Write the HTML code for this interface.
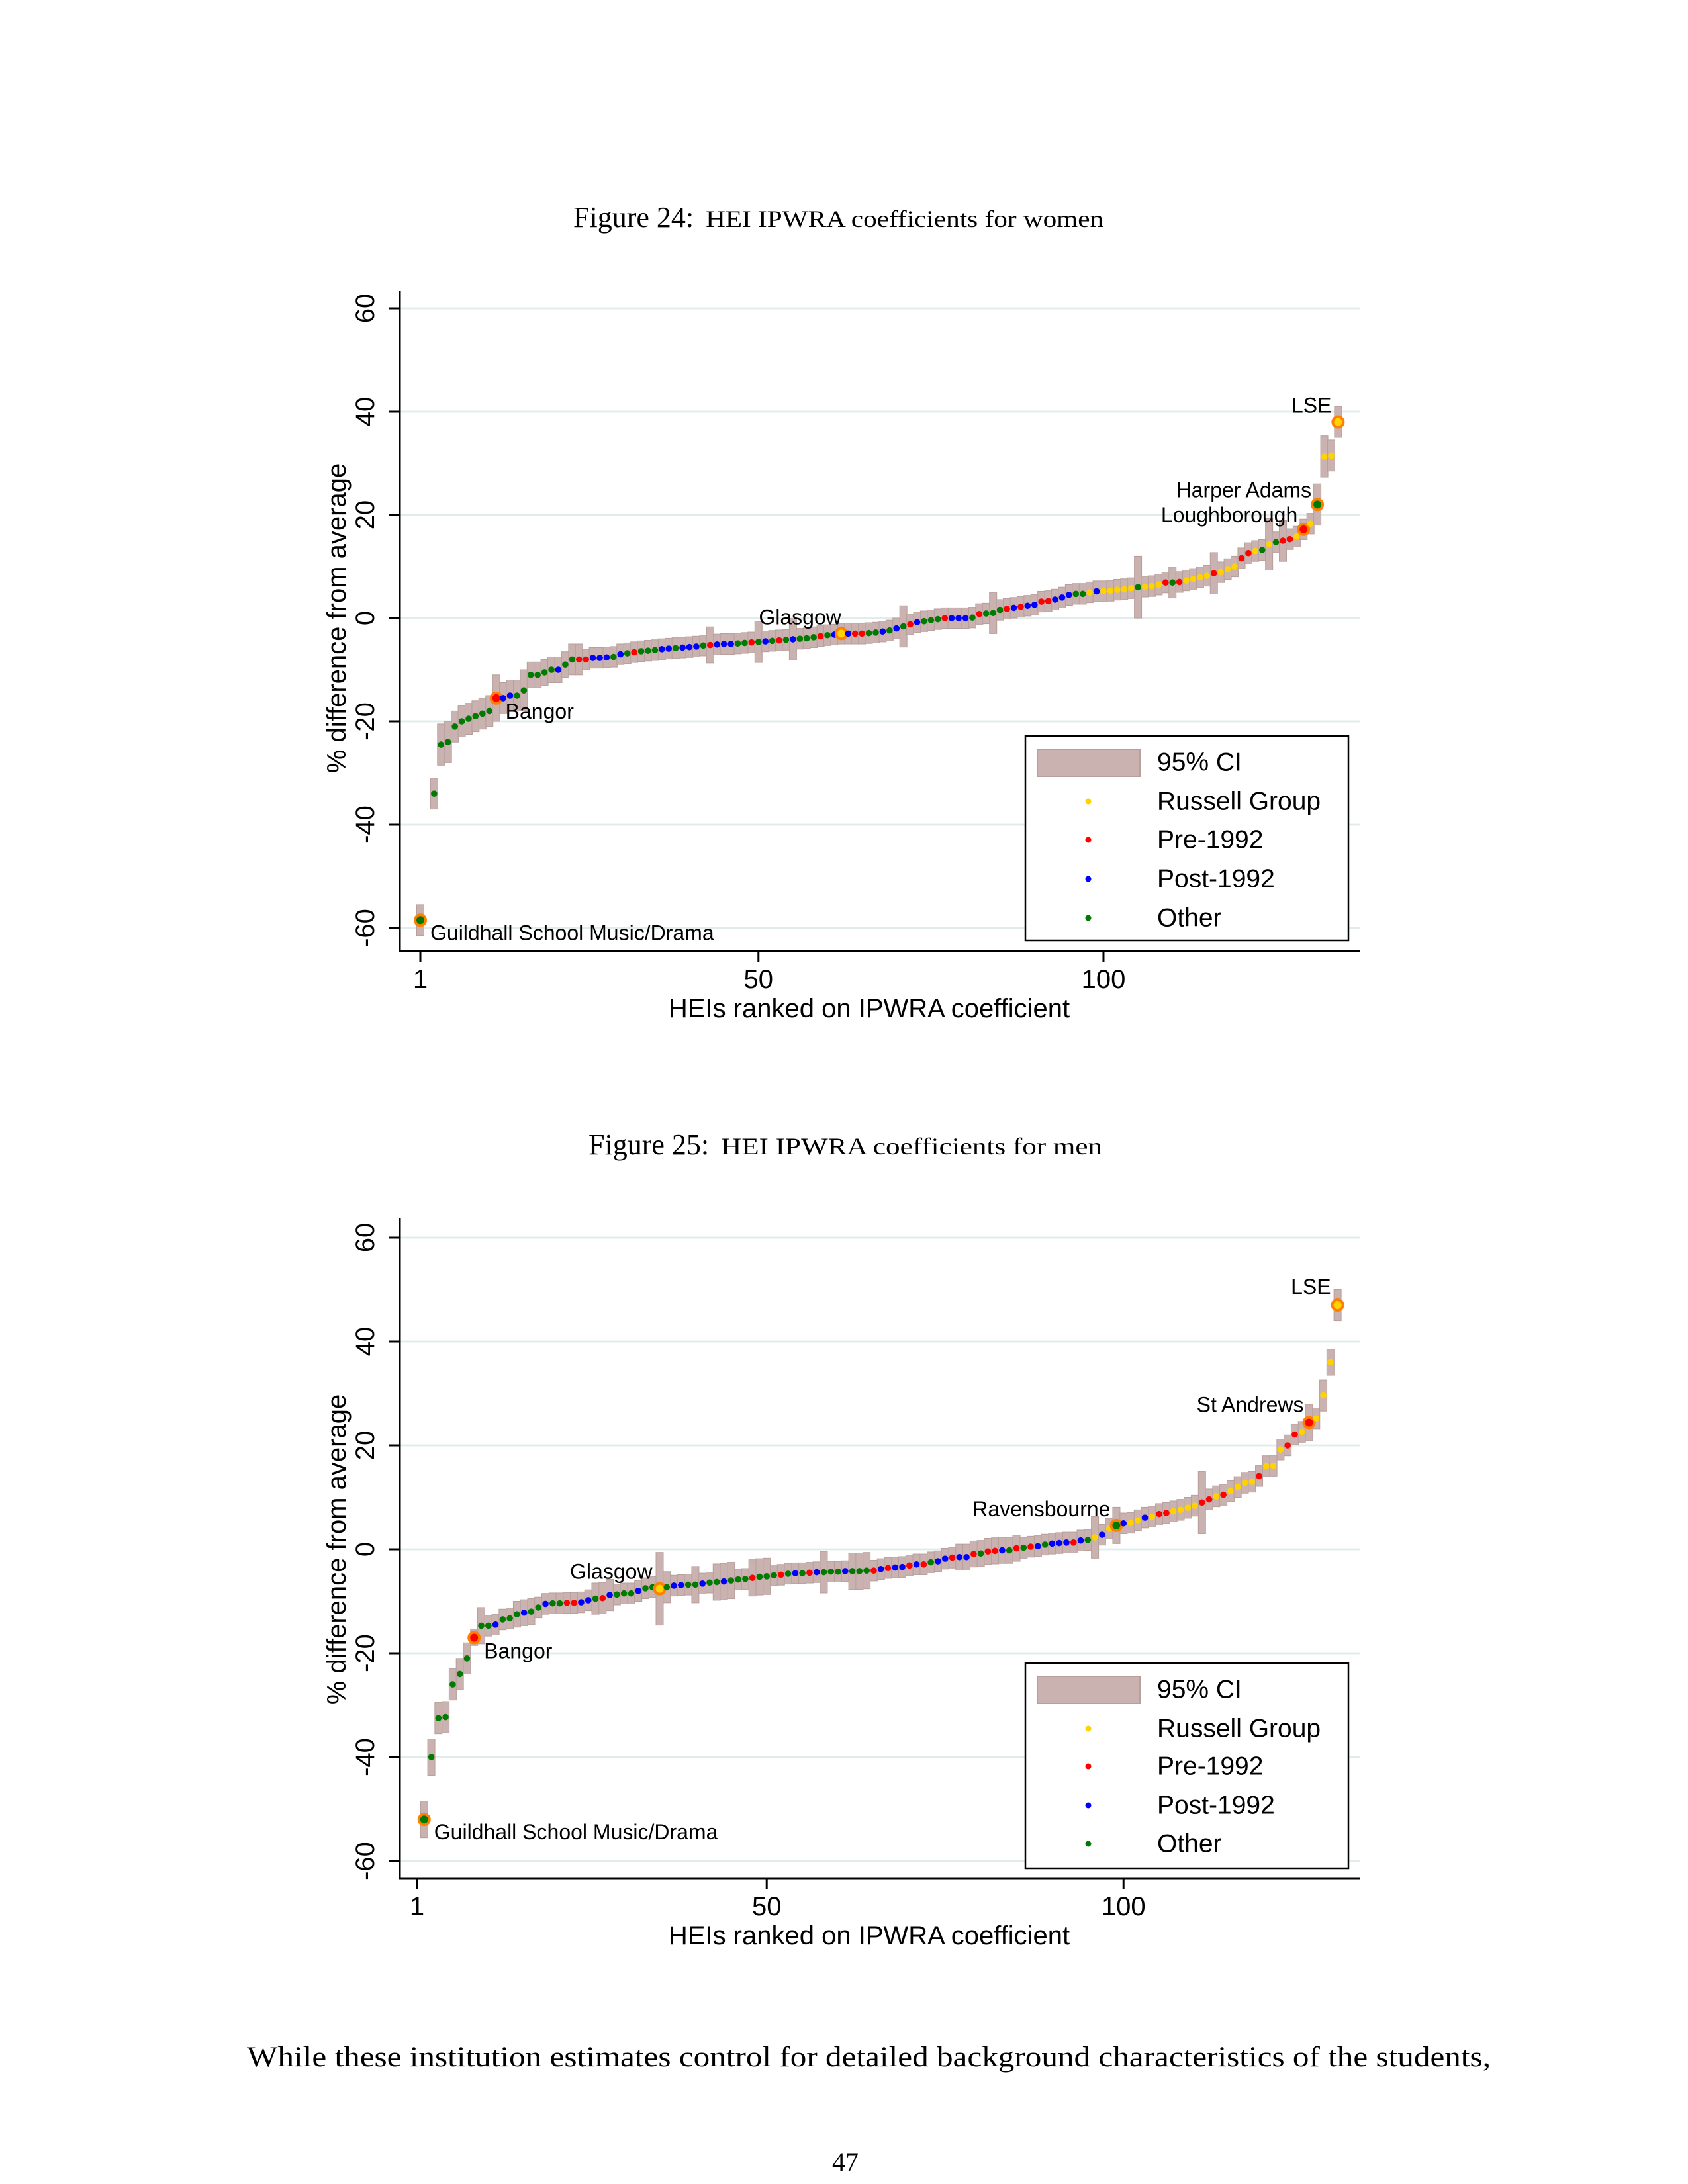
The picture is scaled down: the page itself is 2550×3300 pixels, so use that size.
<!DOCTYPE html>
<html><head><meta charset="utf-8"><style>
html,body{margin:0;padding:0;background:#fff;}
svg{display:block;}
text{font-family:"Liberation Sans",sans-serif;}
.serif{font-family:"Liberation Serif",serif;}
</style></head><body>
<svg id="page" xmlns="http://www.w3.org/2000/svg" width="2550" height="3300" viewBox="0 0 2550 3300">
<rect x="0" y="0" width="2550" height="3300" fill="#fff"/>
<text class="serif" x="866" y="343" font-size="44" fill="#000">Figure 24:<tspan font-size="36" dx="18" textLength="601" lengthAdjust="spacingAndGlyphs">HEI IPWRA coefficients for women</tspan></text>
<text class="serif" x="889" y="1744" font-size="44" fill="#000">Figure 25:<tspan font-size="36" dx="18" textLength="576" lengthAdjust="spacingAndGlyphs">HEI IPWRA coefficients for men</tspan></text>
<g id="chart1"></g>
<g id="chart2"></g>
<text class="serif" x="373" y="3122" font-size="43" fill="#000" textLength="1879" lengthAdjust="spacingAndGlyphs">While these institution estimates control for detailed background characteristics of the students,</text>
<text class="serif" x="1277" y="3280" font-size="40" text-anchor="middle" fill="#000">47</text>
</svg>
<script>
const W_vals=[-58.5,null,-34,-24.5,-24,-21,-20,-19.5,-19,-18.5,
-18,-15.5,-15.5,-15,-15,-14,-11,-11,-10.5,-10,
-10,-9,-8,-8,-8,-7.7,-7.7,-7.6,-7.5,-7,
-6.8,-6.6,-6.4,-6.3,-6.2,-6,-5.9,-5.8,-5.7,-5.6,
-5.5,-5.3,-5.2,-5.1,-5,-5,-4.9,-4.8,-4.7,-4.6,
-4.5,-4.4,-4.3,-4.2,-4.1,-4,-3.9,-3.7,-3.5,-3.3,
-3.2,-3,-3,-3,-3,-2.9,-2.8,-2.6,-2.4,-2,
-1.6,-1.2,-0.8,-0.6,-0.4,-0.2,0,0,0,0,
0.1,0.8,0.9,1,1.6,1.8,2,2.2,2.4,2.6,
3.2,3.3,3.6,4,4.5,4.7,4.7,5,5.2,5.2,
5.3,5.5,5.6,5.8,6,6.1,6.2,6.5,6.9,6.9,
7,7.3,7.6,7.9,8.2,8.7,8.9,9.5,10,11.6,
12.6,13,13.2,14.3,14.7,15,15.3,15.8,17.2,18.3,
22,31.3,31.5,38];
const W_ci=[3,0,3,4,4,3,3,3,3,3,
3,4.5,3,3,3,4,2.5,2.5,2.5,2.5,
2.5,2.5,3,3,2,2,2,2,2,2,
2,2,2,2,2,2,2,2,2,2,
2,2,3.5,2,2,2,2,2,2,4,
2,2,2,2,4,2,2,2,2,2,
2,2,2,2,2,2,2,2,2,2,
4,2,2,2,2,2,2,2,2,2,
2,2,2,4,2,2,2,2,2,2,
2,2,2,2,2,2,2,2,2,2,
2,2,2,2,6,2,2,2,2,3,
2,2,2,2,2,4,2,2,2,2,
2,2,2,5,2,4,2,2,2,2,
4,4,3,3];
const W_grp=("GGGGGGGGGG"+"GRBBGGGGGG"+"BGGRRBBBGB"+"GRGGGBBGBB"+"BGRBBBGGRG"+"BGRGBGGGRG"+"BYBRRGGBGB"+"GRBGGGRBBB"+"GRGGGRBRBB"+"RRBBBGGYBY"+"YYYYGYYYRG"+"RYYYYRYYYR"+"RYGYGRRYRY"+"GYYY").split("");
const W_labelIdx=[1,12,62,129,131,134];
const W_labelText=["Guildhall School Music/Drama","Bangor","Glasgow","Loughborough","Harper Adams","LSE"];

const M_vals=[null,-52,-40,-32.5,-32.3,-26,-24,-21,-17,-14.7,
-14.7,-14.5,-13.5,-13.3,-12.5,-12.2,-12,-11.2,-10.5,-10.4,
-10.4,-10.3,-10.3,-10.2,-9.8,-9.5,-9.4,-8.8,-8.7,-8.5,
-8.5,-8,-7.5,-7.3,-7.6,-7.3,-7,-6.9,-6.8,-6.8,
-6.6,-6.4,-6.3,-6.2,-6,-5.8,-5.7,-5.5,-5.3,-5.2,
-5,-4.9,-4.7,-4.6,-4.6,-4.5,-4.4,-4.4,-4.3,-4.3,
-4.2,-4.2,-4.2,-4.1,-4.1,-3.8,-3.6,-3.5,-3.4,-3.1,
-2.9,-2.9,-2.5,-2.3,-1.8,-1.6,-1.5,-1.5,-0.9,-0.8,
-0.4,-0.3,-0.2,-0.2,0.2,0.3,0.5,0.6,0.9,1.1,
1.2,1.3,1.3,1.7,1.8,2.3,2.8,4,4.6,5,
5.1,5.6,6.1,6.3,6.8,7,7.3,7.6,8,8.4,
9,9.6,10.2,10.5,11.2,12,12.8,13,14.1,16,
16.1,19.2,20,22.1,22.6,24.4,25.2,29.6,36,47];
const M_ci=[0,3.5,3.5,3,3,3,3,3,1.5,3.5,
2,2,2,2,2.5,2.5,2.5,2,2,2,
2,2,2,2,2,3,3,3,2,2,
2,2,2,2,7,3,2,2,2,3.5,
2,2,3.5,3.5,3.5,2,2,3.5,3.5,3.5,
2,2,2,2,2,2,2,4,2,2,
2,3.5,3.5,3.5,2,2,2,2,2,2,
2,2,2,2,2,2,2.5,2.5,2.5,2.5,
2.5,2.5,2.5,2.5,2.5,2,2,2,2,2,
2,2,2,2,2,4,2,2,3.5,2,
2,2,2,2,2,2,2,2,2,2,
6,2,2,2,2,2,2,2,2,2,
2,2,2,2,2,3.5,2,3,2.5,3];
const M_grp=("GGGGGGGGRG"+"GBGGGBGGBG"+"GRRBBGRBGG"+"GBGGYGBBGG"+"BGGBGGGRGG"+"GRGBGRBGGG"+"BGGGRBRBBR"+"BRGBBRBBRG"+"RRBGRGRBGB"+"BBRBGYBYGB"+"YYBYRRYYYY"+"RRYRYYYYRY"+"YYRRYRYYYY").split("");
const M_labelIdx=[2,9,35,99,126,130];
const M_labelText=["Guildhall School Music/Drama","Bangor","Glasgow","Ravensbourne","St Andrews","LSE"];

const yTicks=[-60,-40,-20,0,20,40,60];
const xTicks=[1,50,100];
const legendItems=["Russell Group","Pre-1992","Post-1992","Other"];
const legendGroups=["Y","R","B","G"];

const COLORS={Y:"#ffd200",R:"#ff0000",B:"#0000ff",G:"#007a00"};
const NS="http://www.w3.org/2000/svg";
function mk(tag,attrs,parent,txt){const e=document.createElementNS(NS,tag);for(const k in attrs)e.setAttribute(k,attrs[k]);if(txt!==undefined)e.textContent=txt;parent.appendChild(e);return e;}

function draw(gid,vals,ci,grp,labIdx,labText,labOff,cfg){
  const g=document.getElementById(gid);
  const xs=r=>cfg.x1+(r-1)*cfg.dx;
  const ys=v=>cfg.y0-v*cfg.k;
  yTicks.forEach(t=>{
    const l=mk("line",{x1:cfg.left,x2:cfg.right,y1:ys(t),y2:ys(t),stroke:"#e3ecec","stroke-width":3},g);
    
    
    const tk=mk("line",{x1:cfg.left-16,x2:cfg.left,y1:ys(t),y2:ys(t),stroke:"#000","stroke-width":3},g);
    
    
    const tx=mk("text",{x:552,y:ys(t),"font-size":40,"text-anchor":"middle","dominant-baseline":"central",transform:"rotate(-90 552 "+ys(t)+")"},g,String(t));
    
    
  });
  xTicks.forEach(t=>{
    const tk=mk("line",{x1:xs(t),x2:xs(t),y1:cfg.bottom,y2:cfg.bottom+16,stroke:"#000","stroke-width":3},g);
    
    
    const tx=mk("text",{x:xs(t),y:cfg.bottom+56,"font-size":40,"text-anchor":"middle"},g,String(t));
    
    
  });
  const ax=mk("path",{d:`M${cfg.left} ${cfg.top} V${cfg.bottom} H${cfg.right}`,fill:"none",stroke:"#000","stroke-width":3},g);
  
  
  const xt=mk("text",{x:1313,y:cfg.bottom+100,"font-size":40,"text-anchor":"middle"},g,"HEIs ranked on IPWRA coefficient");
  
  
  const ymid=(ys(60)+ys(-60))/2;
  const yt=mk("text",{x:509,y:ymid,"font-size":40,"text-anchor":"middle","dominant-baseline":"central",transform:`rotate(-90 509 ${ymid})`},g,"% difference from average");
  
  
  vals.forEach((v,i)=>{
    if(v===null)return;
    const r=mk("rect",{x:xs(i+1)-5.5,y:ys(v+ci[i]),width:11,height:ys(v-ci[i])-ys(v+ci[i]),fill:"#c9b2af",stroke:"#b79f9c","stroke-width":1},g);
    
    
  });
  vals.forEach((v,i)=>{
    if(v===null)return;
    if(labIdx.indexOf(i+1)>=0){
      const ring=mk("circle",{cx:xs(i+1),cy:ys(v),r:8,fill:COLORS[grp[i]],stroke:"#ff8000","stroke-width":4},g);
      
      
    }
    const c=mk("circle",{cx:xs(i+1),cy:ys(v),r:4.8,fill:COLORS[grp[i]]},g);
    
    
  });
  labIdx.forEach((idx,j)=>{
    const o=labOff[j];
    const t=mk("text",{x:xs(idx)+o[0],y:ys(vals[idx-1])+o[1],"font-size":32,"text-anchor":o[2]},g,labText[j]);
    
    
  });
  const L=cfg.legend;
  const lb=mk("rect",{x:1549,y:L.top,width:488,height:L.h,fill:"#fff",stroke:"#000","stroke-width":2.5},g);
  
  
  const sw=mk("rect",{x:1567,y:L.rows[0]-20,width:155,height:41,fill:"#c9b2af",stroke:"#b79f9c","stroke-width":2},g);
  
  
  const t0=mk("text",{x:1748,y:L.rows[0],"font-size":39,"dominant-baseline":"central"},g,"95% CI");
  
  
  legendItems.forEach((name,j)=>{
    const d=mk("circle",{cx:1644,cy:L.rows[j+1],r:4.5,fill:COLORS[legendGroups[j]]},g);
    
    
    const t=mk("text",{x:1748,y:L.rows[j+1],"font-size":39,"dominant-baseline":"central"},g,name);
    
    
  });
}
draw("chart1",W_vals,W_ci,W_grp,W_labelIdx,W_labelText,
  [[15,30,"start"],[14,31,"start"],[0,-14,"end"],[-9,-11,"end"],[-9,-11,"end"],[-10,-14,"end"]],
  {x1:635,dx:10.424,y0:934,k:7.8,left:604,right:2054,top:440,bottom:1437,legend:{top:1112,h:309,rows:[1152,1211,1269,1328,1387]}});
draw("chart2",M_vals,M_ci,M_grp,M_labelIdx,M_labelText,
  [[15,30,"start"],[15,31,"start"],[-11,-15,"end"],[-9,-14,"end"],[-8,-16,"end"],[-10,-17,"end"]],
  {x1:630,dx:10.78,y0:2341,k:7.85,left:604,right:2054,top:1841,bottom:2838,legend:{top:2513,h:310,rows:[2553,2612,2669,2728,2786]}});
</script>
</body></html>
